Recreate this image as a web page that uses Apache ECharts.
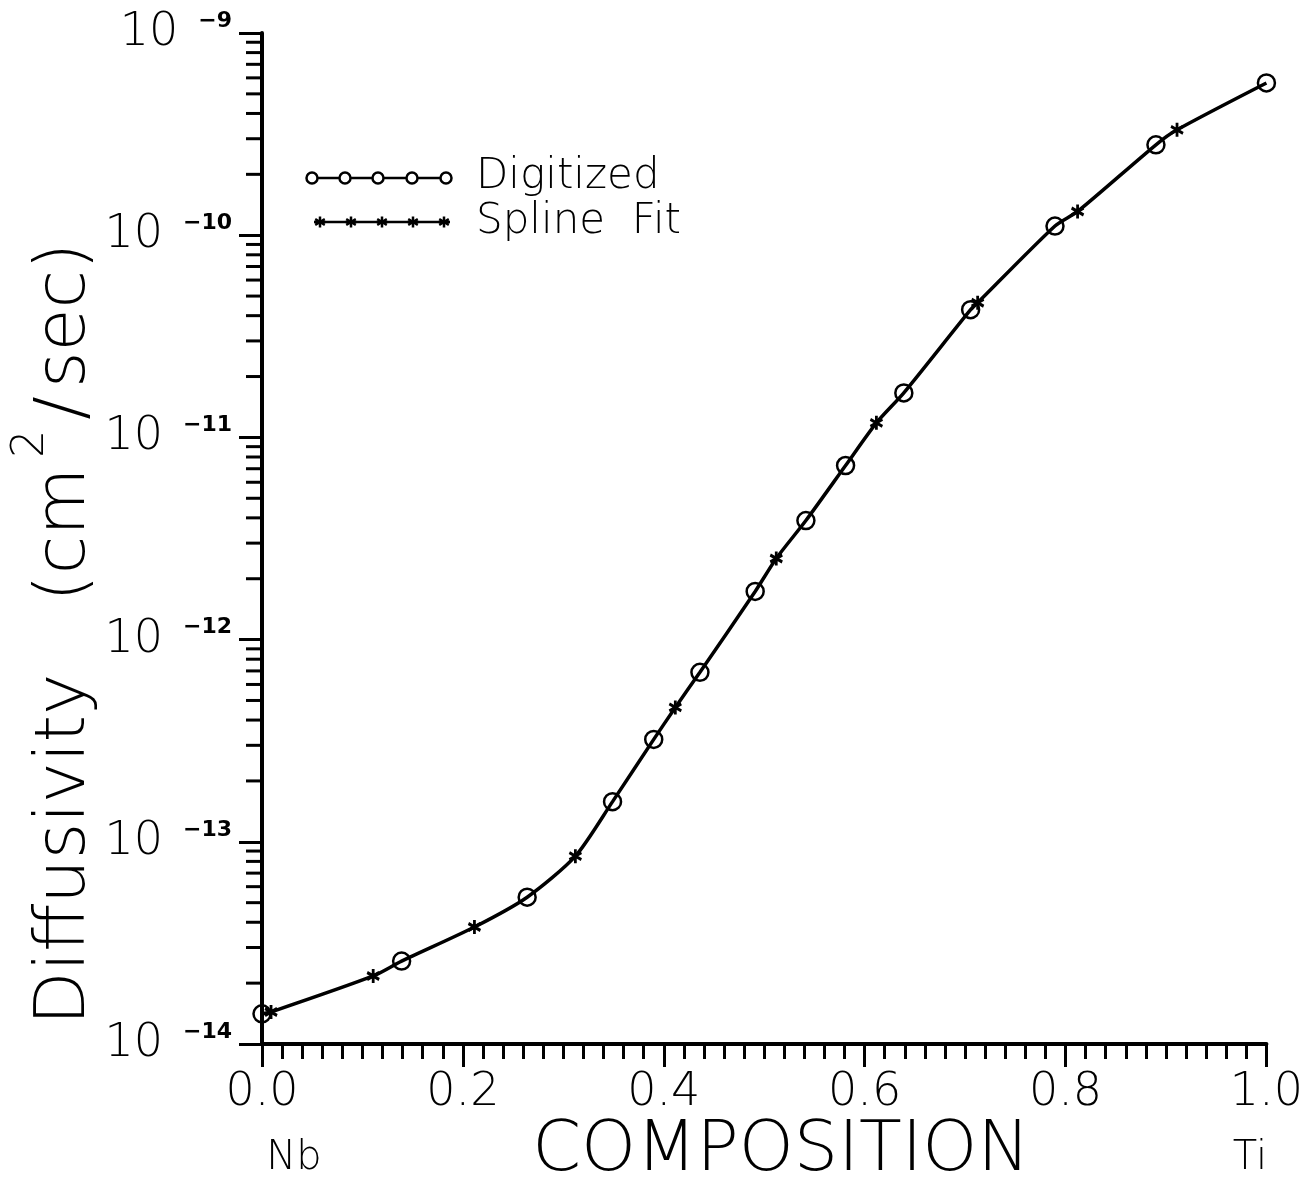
<!DOCTYPE html>
<html>
<head>
<meta charset="utf-8">
<script src="https://cdn.jsdelivr.net/npm/echarts@6/dist/echarts.min.js"></script>
<style>
  html, body { margin: 0; padding: 0; background: #ffffff; }
  #chart { width: 1306px; height: 1180px; }
</style>
</head>
<body>
<div id="chart"></div>
<script>
// Interdiffusion coefficient across the Nb–Ti composition range.
// Composition is the Ti fraction (0 = pure Nb, 1 = pure Ti); D in cm^2/sec.

const digitizedX = [0.000, 0.139, 0.264, 0.349, 0.390, 0.436, 0.491, 0.5415, 0.581, 0.639, 0.7055, 0.7895, 0.890, 1.000];
const digitizedD = [1.41e-14, 2.57e-14, 5.32e-14, 1.58e-13, 3.21e-13, 6.89e-13, 1.73e-12, 3.88e-12, 7.26e-12, 1.66e-11, 4.28e-11, 1.11e-10, 2.80e-10, 5.66e-10];

// Spline fit evaluation points (asterisks)
const splineX = [0.009, 0.1107, 0.2115, 0.312, 0.4115, 0.512, 0.6117, 0.7125, 0.812, 0.911];
const splineD = [1.44e-14, 2.17e-14, 3.79e-14, 8.49e-14, 4.62e-13, 2.52e-12, 1.18e-11, 4.63e-11, 1.31e-10, 3.32e-10];

// Axis ranges and tick values
const xMin = 0, xMax = 1.0, xStep = 0.2;
const yMin = 1e-14, yMax = 1e-9;
const yDecadeExponents = [-14, -13, -12, -11, -10];
const yMinorMultipliers = [2, 3, 4, 5, 6, 7, 8, 9];

const FONT = '"DejaVu Sans", "Liberation Sans", sans-serif';
const THIN = 200;
const INK = '#000000';

const digitizedPts = digitizedX.map((x, i) => [x, digitizedD[i]]);
const splinePts = splineX.map((x, i) => [x, splineD[i]]);
// the curve passes through both point sets in composition order
const curvePts = digitizedPts.concat(splinePts).sort((a, b) => a[0] - b[0]);

// minor ticks of the logarithmic axis (2..9 within each decade)
const yMinorTicks = [];
yDecadeExponents.forEach(e => yMinorMultipliers.forEach(m => yMinorTicks.push([0, m * Math.pow(10, e)])));

const starPath = 'path://M0,-6L0,6M-5.2,-3L5.2,3M-5.2,3L5.2,-3';

const chart = echarts.init(document.getElementById('chart'), null, { renderer: 'canvas' });

// legend sample drawn as a short polyline with five markers
const legendXs = [312, 345, 378, 412, 446];
const legendStarXs = [320, 351, 382, 413, 444];
const legendGraphics = [
  { type: 'line', shape: { x1: 306, y1: 178, x2: 451, y2: 178 }, style: { stroke: INK, lineWidth: 2.5 } },
  { type: 'line', shape: { x1: 314, y1: 222, x2: 450, y2: 222 }, style: { stroke: INK, lineWidth: 2.5 } }
];
legendXs.forEach(x => legendGraphics.push({
  type: 'circle', shape: { cx: x, cy: 178, r: 5.5 }, style: { fill: '#fff', stroke: INK, lineWidth: 2.5 }
}));
legendStarXs.forEach(x => {
  [[0, -5.5, 0, 5.5], [-4.8, -2.8, 4.8, 2.8], [-4.8, 2.8, 4.8, -2.8]].forEach(s => legendGraphics.push({
    type: 'line', shape: { x1: x + s[0], y1: 222 + s[1], x2: x + s[2], y2: 222 + s[3] },
    style: { stroke: INK, lineWidth: 2.5 }
  }));
});
legendGraphics.push(
  { type: 'text', x: 476, y: 177, style: { text: 'Digitized', fill: INK, font: THIN + ' 42px ' + FONT, verticalAlign: 'middle', align: 'left' } },
  { type: 'text', x: 476, y: 222, style: { text: 'Spline  Fit', fill: INK, font: THIN + ' 42px ' + FONT, verticalAlign: 'middle', align: 'left' } }
);

const titleBase = { fontFamily: FONT, fontWeight: THIN, fontSize: 70, lineHeight: 112, fill: INK };

const option = {
  backgroundColor: '#ffffff',
  animation: false,
  grid: { left: 262, right: 33, top: 33, bottom: 136, containLabel: false },
  xAxis: {
    type: 'value',
    min: xMin, max: xMax, interval: xStep,
    axisLine: { show: true, onZero: false, lineStyle: { color: INK, width: 4 } },
    axisTick: { show: true, inside: false, length: 23, lineStyle: { color: INK, width: 3 } },
    minorTick: { show: true, splitNumber: 10, length: 15, lineStyle: { color: INK, width: 3 } },
    splitLine: { show: false },
    minorSplitLine: { show: false },
    axisLabel: {
      margin: 26, color: INK, fontFamily: FONT, fontWeight: THIN, fontSize: 46,
      formatter: v => v.toFixed(1)
    }
  },
  yAxis: {
    type: 'log', logBase: 10,
    min: yMin, max: yMax, interval: 1,
    axisLine: { show: true, onZero: false, lineStyle: { color: INK, width: 4 } },
    axisTick: { show: true, inside: false, length: 23, lineStyle: { color: INK, width: 3 } },
    splitLine: { show: false },
    axisLabel: {
      margin: 30, color: INK,
      formatter: v => '{b|10}{s|\u2212' + Math.abs(Math.round(Math.log10(v))) + '}',
      rich: {
        b: { fontFamily: FONT, fontWeight: THIN, fontSize: 46, lineHeight: 46, color: INK },
        s: { fontFamily: FONT, fontWeight: 'bold', fontSize: 22, lineHeight: 22, color: INK, verticalAlign: 'top', padding: [0, 0, 0, 20] }
      }
    }
  },
  graphic: [
    {
      type: 'text', x: 66, y: 634, rotation: Math.PI / 2,
      style: {
        text: '{a|Diffusivity}{p|(cm}{sup|2}{sl|/}{a|sec)}',
        align: 'center', verticalAlign: 'middle',
        rich: {
          a: titleBase,
          p: Object.assign({}, titleBase, { padding: [0, 0, 0, 72] }),
          sl: Object.assign({}, titleBase, { padding: [0, 8, 0, 0] }),
          sup: { fontFamily: FONT, fontWeight: THIN, fontSize: 44, lineHeight: 44, fill: INK, verticalAlign: 'top', padding: [0, 10, 0, 10] }
        }
      }
    },
    { type: 'text', x: 781, y: 1152, style: { text: 'COMPOSITION', fill: INK, font: THIN + ' 70px ' + FONT, align: 'center', verticalAlign: 'middle' } },
    { type: 'text', x: 294, y: 1159, style: { text: 'Nb', fill: INK, font: THIN + ' 40px ' + FONT, align: 'center', verticalAlign: 'middle' } },
    { type: 'text', x: 1250, y: 1159, style: { text: 'Ti', fill: INK, font: THIN + ' 40px ' + FONT, align: 'center', verticalAlign: 'middle' } }
  ].concat(legendGraphics),
  series: [
    {
      name: 'curve', type: 'line', data: curvePts,
      smooth: 0.25, showSymbol: false, silent: true,
      lineStyle: { color: INK, width: 3.5 }, z: 2
    },
    {
      name: 'Digitized', type: 'scatter', data: digitizedPts,
      symbol: 'circle', symbolSize: 17,
      itemStyle: { color: 'rgba(0,0,0,0)', borderColor: INK, borderWidth: 2.5, opacity: 1 }, z: 3
    },
    {
      name: 'Spline Fit', type: 'scatter', data: splinePts,
      symbol: starPath, symbolSize: [12, 14],
      itemStyle: { color: 'rgba(0,0,0,0)', borderColor: INK, borderWidth: 3, opacity: 1 }, z: 3
    },
    {
      name: 'yMinorTicks', type: 'custom', data: yMinorTicks, silent: true, clip: false, z: 4,
      renderItem: (params, api) => {
        const p = api.coord([api.value(0), api.value(1)]);
        return { type: 'line', shape: { x1: p[0] - 16, y1: p[1], x2: p[0], y2: p[1] }, style: { stroke: INK, lineWidth: 3 } };
      }
    }
  ]
};

chart.setOption(option);
</script>
</body>
</html>
